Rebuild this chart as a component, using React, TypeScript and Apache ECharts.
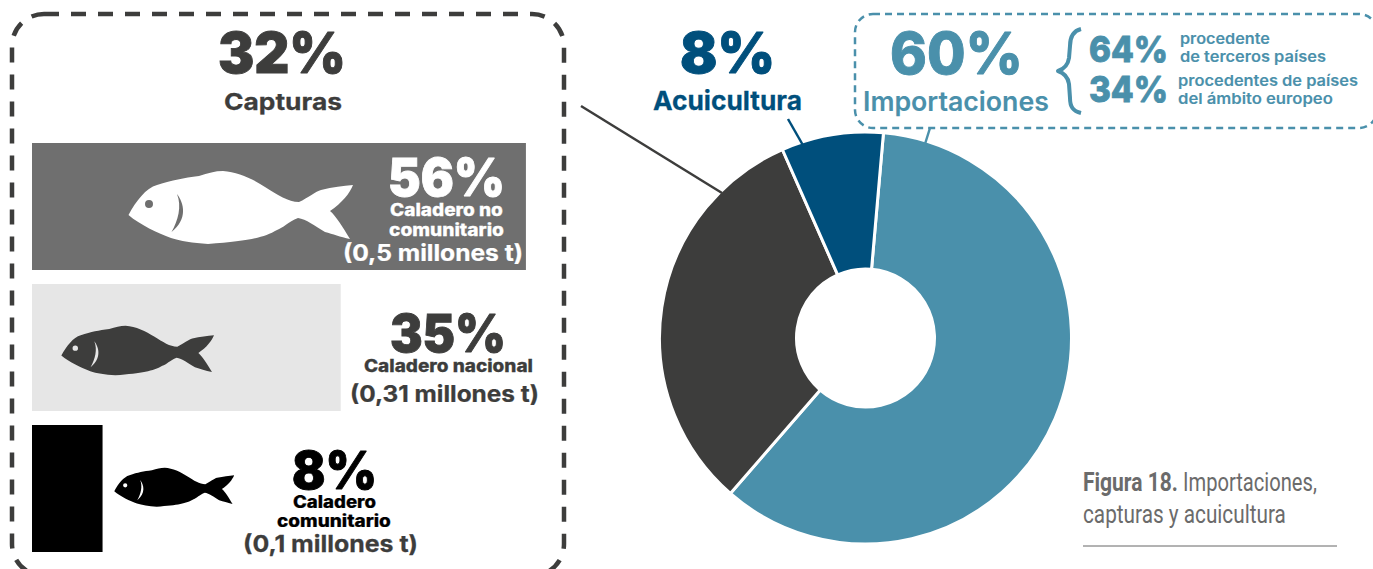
import React, { useEffect, useRef } from "react";
import * as echarts from "echarts";

const sourceNames = ["Importaciones", "Capturas", "Acuicultura"];
const sourceValues = [60, 32, 8];
const sourceColors = ["#4a90ab", "#3d3d3c", "#004f7c"];

const fisheryNames = ["Caladero no comunitario", "Caladero nacional", "Caladero comunitario"];
const fisheryValues = [56, 35, 8];
const fisheryColors = ["#6f6f6f", "#e6e6e6", "#000000"];

const DARK = "#3d3d3c";
const BLUE = "#004f7c";
const TEAL = "#4a90ab";
const GREY = "#6b6b6b";
const SANS = "Inter, Roboto, sans-serif";
const NARROW = "Roboto, sans-serif";

// text, left, right, centre y, font size, weight, colour, family
const labels: [string, number, number, number, number, number, string, string][] = [
  ["32%", 218, 346, 53, 56, 900, DARK, SANS],
  ["Capturas", 224, 342, 102, 23, 700, DARK, SANS],
  ["56%", 388, 505, 177, 52, 900, "#ffffff", SANS],
  ["Caladero no", 390, 503, 210, 17, 800, "#ffffff", SANS],
  ["comunitario", 389, 504, 229, 17, 800, "#ffffff", SANS],
  ["(0,5 millones t)", 343, 523, 253, 23, 700, "#ffffff", SANS],
  ["35%", 390, 506, 333, 52, 900, DARK, SANS],
  ["Caladero nacional", 364, 533, 366, 17, 800, DARK, SANS],
  ["(0,31 millones t)", 350, 539, 394, 23, 700, DARK, SANS],
  ["8%", 292, 377, 470, 52, 900, "#000000", SANS],
  ["Caladero", 293, 376, 502, 17, 800, "#000000", SANS],
  ["comunitario", 277, 391, 521, 17, 800, "#000000", SANS],
  ["(0,1 millones t)", 243, 418, 544, 23, 700, DARK, SANS],
  ["8%", 680, 775, 53, 57, 900, BLUE, SANS],
  ["Acuicultura", 653, 802, 101, 26, 700, BLUE, SANS],
  ["60%", 890, 1023, 53, 58, 800, TEAL, SANS],
  ["Importaciones", 863, 1049, 101, 27, 600, TEAL, SANS],
  ["64%", 1089, 1168, 48, 36, 800, TEAL, SANS],
  ["34%", 1089, 1168, 88, 36, 800, TEAL, SANS],
  ["procedente", 1180, 1270, 39, 15, 600, TEAL, SANS],
  ["de terceros países", 1180, 1326, 57, 15, 600, TEAL, SANS],
  ["procedentes de países", 1178, 1358, 81, 15, 600, TEAL, SANS],
  ["del ámbito europeo", 1178, 1333, 99, 15, 600, TEAL, SANS],
  ["Figura 18.", 1083, 1178, 483, 25, 700, GREY, NARROW],
  ["Importaciones,", 1183, 1317, 483, 25, 400, GREY, NARROW],
  ["capturas y acuicultura", 1083, 1286, 515, 25, 400, GREY, NARROW],
];

echarts.graphic.registerShape(
  "fishBody",
  echarts.graphic.extendPath(
    "M0.5,44 C8,30 18,17 29,14 C45,9 55,7 71,5 C80,2 87,0 95,0 C110,1 125,8 137,16 C150,24 160,31 171,31 C180,27 188,20 193,19 C205,16 215,15 225,14 C222,22 214,32 202,40 C208,45 214,55 222,68 C212,66 205,63 197,61 C187,55 178,48 170,47 C160,51 155,57 149,59 C135,67 120,70 80,73 C65,72 52,70 43,67 C30,62 12,54 0.5,44 Z",
    {}
  )
);
echarts.graphic.registerShape(
  "fishMark",
  echarts.graphic.extendPath(
    "M49,23 C56,32 60,48 43.5,61 C50,50 54,35 49,23 Z M25,33 A4,4 0 1,0 17,33 A4,4 0 1,0 25,33 Z",
    {}
  )
);
echarts.graphic.registerShape(
  "brace",
  echarts.graphic.extendPath(
    "M1081,29 C1073,31 1070,37 1070,46 L1069,58 C1068,65 1064,69 1058,71 C1064,73 1068,77 1069,84 L1070,98 C1070,107 1073,111 1081,113",
    {}
  )
);

const measure = (t: string, size: number, weight: number, family: string) => {
  const c = document.createElement("canvas").getContext("2d")!;
  c.font = `${weight} ${size}px ${family}`;
  return c.measureText(t).width;
};

export default function App() {
  const ref = useRef<HTMLDivElement>(null);
  useEffect(() => {
    const chart = echarts.init(ref.current!, undefined, { renderer: "svg" });
    const fish = (x: number, y: number, s: number, body: string, mark: string) => [
      { type: "fishBody", x, y, scaleX: s, scaleY: s, z: 20, style: { fill: body } },
      { type: "fishMark", x, y, scaleX: s, scaleY: s, z: 21, style: { fill: mark } },
    ];
    const line = (x1: number, y1: number, x2: number, y2: number, stroke: string, w: number) => ({
      type: "line",
      z: 5,
      shape: { x1, y1, x2, y2 },
      style: { stroke, lineWidth: w },
    });
    chart.setOption({
      animation: false,
      backgroundColor: "#ffffff",
      grid: { left: 32, top: 136, width: 882, height: 423, containLabel: false },
      xAxis: { type: "value", min: 0, max: 100, show: false },
      yAxis: { type: "category", data: fisheryNames, inverse: true, show: false },
      series: [
        {
          type: "bar",
          barWidth: 127,
          silent: true,
          data: fisheryValues.map((value, i) => ({ value, itemStyle: { color: fisheryColors[i] } })),
        },
        {
          type: "pie",
          center: [865.5, 338],
          radius: [69, 206],
          startAngle: 85,
          silent: true,
          label: { show: false },
          labelLine: { show: false },
          itemStyle: { borderColor: "#ffffff", borderWidth: 3 },
          data: sourceValues.map((value, i) => ({
            value,
            name: sourceNames[i],
            itemStyle: { color: sourceColors[i] },
          })),
        },
      ],
      graphic: [
        {
          type: "rect",
          z: 5,
          shape: { x: 12, y: 14, width: 552, height: 562, r: 32 },
          style: { fill: "transparent", stroke: DARK, lineWidth: 4.5, lineDash: [15, 12] },
        },
        {
          type: "rect",
          z: 5,
          shape: { x: 855, y: 14, width: 522, height: 114, r: 18 },
          style: { fill: "transparent", stroke: TEAL, lineWidth: 2.5, lineDash: [7, 5] },
        },
        line(581, 106, 722, 193, DARK, 2.5),
        line(788, 119, 804, 147, BLUE, 2.5),
        line(930, 128, 925, 144, TEAL, 2.5),
        line(1083, 546, 1337, 546, "#666666", 1),
        {
          type: "brace",
          z: 5,
          style: { fill: "transparent", stroke: TEAL, lineWidth: 4, lineJoin: "round" },
        },
        ...fish(128, 171, 1, "#ffffff", fisheryColors[0]),
        ...fish(61, 325.7, 0.68, DARK, fisheryColors[1]),
        ...fish(114, 467.7, 0.534, "#000000", "#ffffff"),
        ...labels.map(([text, left, right, y, size, weight, fill, family]) => ({
          type: "text",
          z: 30,
          x: left,
          y,
          scaleX: (right - left) / measure(text, size, weight, family),
          style: {
            text,
            fill,
            stroke: family === SANS ? fill : "transparent",
            lineWidth: family !== SANS ? 0 : size > 30 ? 0.9 : weight >= 700 ? 0.25 : 0.1,
            fontSize: size,
            fontWeight: weight,
            fontFamily: family,
            textAlign: "left",
            textVerticalAlign: "middle",
          },
        })),
      ],
    });
    return () => chart.dispose();
  }, []);
  return (
    <div
      ref={ref}
      style={{ position: "fixed", left: 0, top: 0, width: 1373, height: 569, overflow: "hidden" }}
    />
  );
}
